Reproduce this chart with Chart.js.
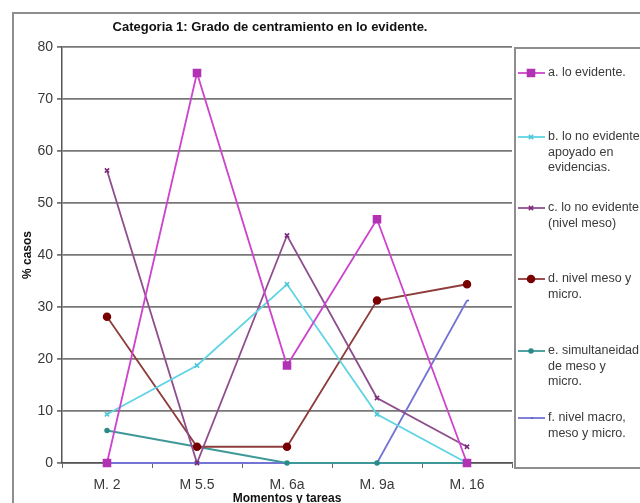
<!DOCTYPE html>
<html>
<head>
<meta charset="utf-8">
<script src="https://cdn.jsdelivr.net/npm/chart.js@4"></script>
<style>
  html, body { margin: 0; padding: 0; background: #fff; }
  canvas { display: block; }
</style>
</head>
<body>
<canvas id="chart-lines" width="640" height="503"></canvas>
<script>
// categorías y porcentajes por momento
var categories = ["M. 2", "M 5.5", "M. 6a", "M. 9a", "M. 16"];
var yTicks = [0, 10, 20, 30, 40, 50, 60, 70, 80];

var serieA = [0, 75, 18.75, 46.875, 0];
var serieB = [9.375, 18.75, 34.375, 9.375, 0];
var serieC = [56.25, 0, 43.75, 12.5, 3.125];
var serieD = [28.125, 3.125, 3.125, 31.25, 34.375];
var serieE = [6.25, 3.125, 0, 0, 0];
var serieF = [0, 0, 0, 0, 31.25];

var seriesLabels = [
  ["a. lo evidente."],
  ["b. lo no evidente", "apoyado en", "evidencias."],
  ["c. lo no evidente", "(nivel meso)"],
  ["d. nivel meso y", "micro."],
  ["e. simultaneidad", "de meso y", "micro."],
  ["f. nivel macro,", "meso y micro."]
];

var chartTitle = "Categoria 1: Grado de centramiento en lo evidente.";

Chart.defaults.font.family = '"Liberation Sans", Arial, sans-serif';

function serie(i, data, color, marker, style, radius) {
  return {
    label: seriesLabels[i].join(" "),
    data: data,
    borderColor: color,
    borderWidth: 1.8,
    pointStyle: style,
    pointRadius: radius,
    pointBackgroundColor: marker,
    pointBorderColor: marker,
    pointBorderWidth: 1.5,
    tension: 0,
    fill: false,
    clip: false
  };
}

// marco exterior y título
const framePlugin = {
  id: "frame",
  beforeDraw(chart) {
    const c = chart.ctx;
    c.save();
    c.strokeStyle = "#8e8e8e";
    c.lineWidth = 2;
    c.beginPath();
    c.moveTo(13, 503);
    c.lineTo(13, 13);
    c.lineTo(640, 13);
    c.stroke();
    c.fillStyle = "#111";
    c.font = 'bold 13px "Liberation Sans", Arial, sans-serif';
    c.textAlign = "center";
    c.textBaseline = "middle";
    c.fillText(chartTitle, 270, 27);
    c.restore();
  }
};

// leyenda en caja a la derecha
const legendRows = [73, 137, 208, 279, 351, 418];
const legendBox = {
  id: "legendBox",
  afterDraw(chart) {
    const c = chart.ctx;
    c.save();
    c.strokeStyle = "#8e8e8e";
    c.lineWidth = 2;
    c.strokeRect(515, 48, 200, 420);
    c.font = '12.5px "Liberation Sans", Arial, sans-serif';
    c.textAlign = "left";
    c.textBaseline = "middle";
    chart.data.datasets.forEach((ds, i) => {
      const y = legendRows[i];
      c.strokeStyle = ds.borderColor;
      c.lineWidth = ds.borderWidth;
      c.beginPath();
      c.moveTo(518, y);
      c.lineTo(545, y);
      c.stroke();
      if (ds.pointRadius > 0) {
        c.fillStyle = ds.pointBackgroundColor;
        c.strokeStyle = ds.pointBorderColor;
        c.lineWidth = ds.pointBorderWidth;
        Chart.helpers.drawPoint(c, { pointStyle: ds.pointStyle, radius: ds.pointRadius, rotation: 0, borderWidth: ds.pointBorderWidth }, 531, y);
      }
      c.fillStyle = "#3a3a3a";
      seriesLabels[i].forEach((t, k) => c.fillText(t, 548, y + k * 15.5));
    });
    c.restore();
  }
};

const ctx = document.getElementById("chart-lines").getContext("2d");

new Chart(ctx, {
  type: "line",
  data: {
    labels: categories,
    datasets: [
      serie(0, serieA, "#cc44cc", "#b232b4", "rect", 5),
      serie(1, serieB, "#5fd4e4", "#4cc6d8", "crossRot", 3),
      serie(2, serieC, "#8e4e8e", "#7a2a7c", "crossRot", 3),
      serie(3, serieD, "#8e3c3c", "#780000", "circle", 3.5),
      serie(4, serieE, "#3e9898", "#2a8a8a", "circle", 2),
      serie(5, serieF, "#7474d4", "#5a5ad0", "dash", 2)
    ]
  },
  options: {
    responsive: false,
    maintainAspectRatio: false,
    animation: false,
    layout: { padding: { left: 12, top: 47, right: 128, bottom: 0 } },
    plugins: {
      legend: { display: false },
      title: { display: false },
      tooltip: { enabled: false }
    },
    scales: {
      x: {
        offset: true,
        grid: { display: true, drawOnChartArea: false, drawTicks: true, tickLength: 5, offset: true, color: "#666", lineWidth: 1 },
        border: { color: "#555", width: 1.5 },
        ticks: { color: "#3a3a3a", font: { size: 14 }, padding: 9, maxRotation: 0 },
        title: { display: true, text: "Momentos y tareas", color: "#111", font: { size: 12, weight: "bold" }, padding: { top: 0, bottom: -3 } },
        afterFit: (s) => { s.height = 40; }
      },
      y: {
        min: 0,
        max: 80,
        afterBuildTicks: (s) => { s.ticks = yTicks.map(v => ({ value: v })); },
        grid: { color: "#777", lineWidth: 1.8, drawTicks: true, tickLength: 5 },
        border: { color: "#555", width: 1.5 },
        ticks: { color: "#3a3a3a", font: { size: 14 }, padding: 4 },
        title: { display: true, text: "% casos", color: "#111", font: { size: 12, weight: "bold" }, padding: { top: 8, bottom: 0 } },
        afterFit: (s) => { s.width = 50; }
      }
    }
  },
  plugins: [framePlugin, legendBox]
});
</script>
</body>
</html>
